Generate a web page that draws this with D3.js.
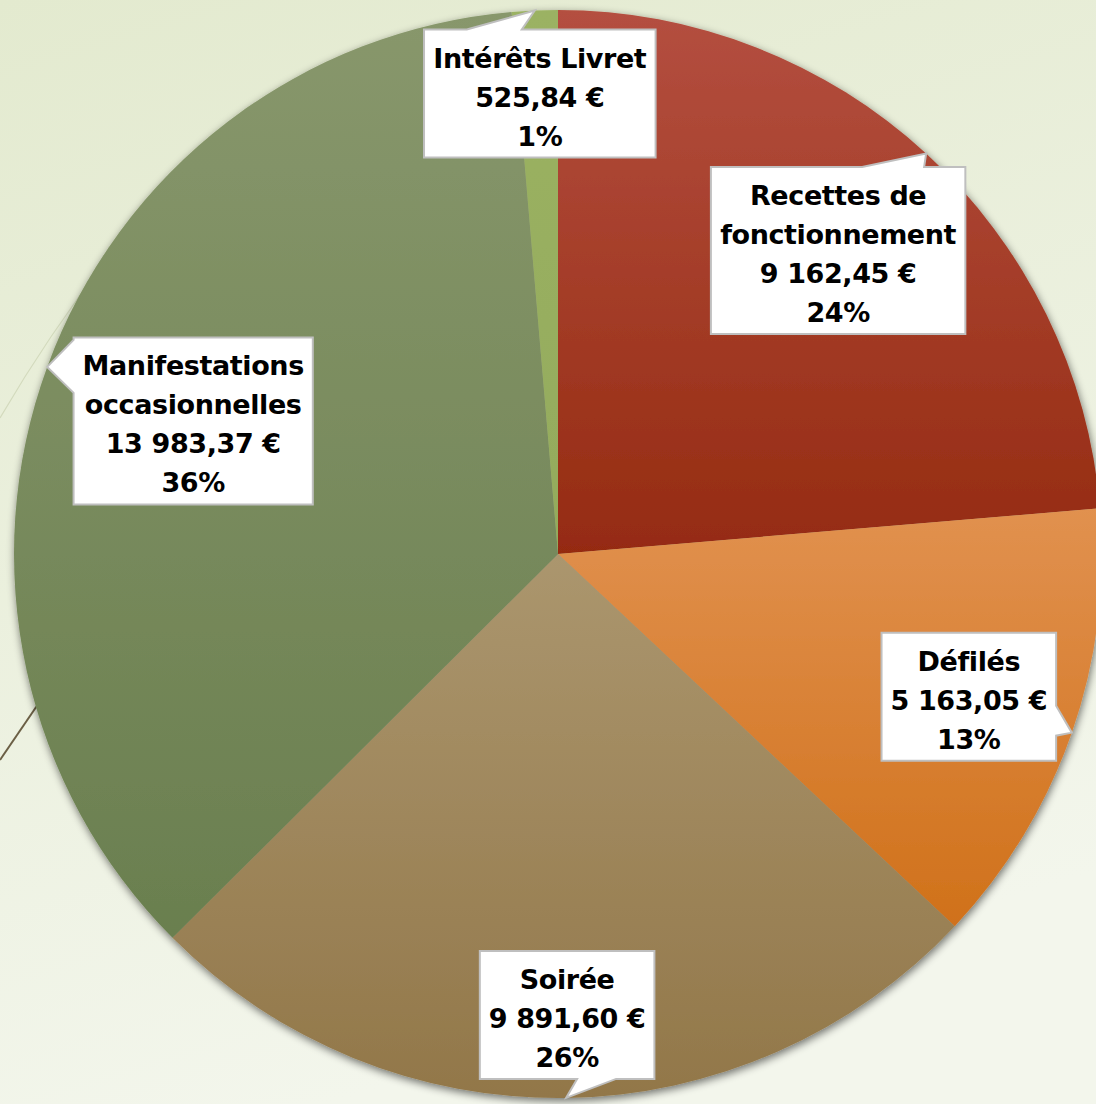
<!DOCTYPE html>
<html>
<head>
<meta charset="utf-8">
<script src="https://cdn.jsdelivr.net/npm/d3@7"></script>
<style>
  html, body { margin: 0; padding: 0; overflow: hidden; }
  svg { display: block; }
</style>
</head>
<body>
<svg id="chart"></svg>
<script>
// data
var categories = ["Recettes de fonctionnement", "Défilés", "Soirée", "Manifestations occasionnelles", "Intérêts Livret"];
var labelLines = [["Recettes de", "fonctionnement"], ["Défilés"], ["Soirée"], ["Manifestations", "occasionnelles"], ["Intérêts Livret"]];
var values = [9162.45, 5163.05, 9891.60, 13983.37, 525.84];

// slice colours (top, bottom of gradient)
var colorsTop = ["#b44f40", "#e1914f", "#ab966e", "#88976c", "#9bb263"];
var colorsBottom = ["#952b11", "#d0711a", "#927749", "#6a7f4f", "#94ab5c"];

// callout layout: box centre offset from pointer tip, side, pointer base span
var callouts = [
  { dx: -88, dy: 97, side: "top", base: [-64, -2] },
  { dx: -103, dy: -36, side: "right", base: [-27, 3] },
  { dx: 1, dy: -83, side: "bottom", base: [11, 50] },
  { dx: 146, dy: 54, side: "left", base: [-27, 26] },
  { dx: 5, dy: 83, side: "top", base: [-68, -13] }
];

var width = 1096, height = 1104;
var cx = 558, cy = 554, radius = 544;
var lineH = 39;

var fr = d3.formatLocale({ decimal: ",", thousands: "\u00a0", grouping: [3], currency: ["", "\u00a0€"] });
var fmtMoney = fr.format("$,.2f");
var total = d3.sum(values);

var svg = d3.select("#chart")
    .attr("width", width)
    .attr("height", height)
    .attr("viewBox", [0, 0, width, height]);

var defs = svg.append("defs");

var bg = defs.append("linearGradient").attr("id", "bg")
    .attr("x1", 0).attr("y1", 0).attr("x2", 0.3).attr("y2", 1);
bg.append("stop").attr("offset", "0%").attr("stop-color", "#e3eacf");
bg.append("stop").attr("offset", "100%").attr("stop-color", "#f3f6ec");

values.forEach(function (v, i) {
  var g = defs.append("linearGradient").attr("id", "slice" + i)
      .attr("x1", 0).attr("y1", 0).attr("x2", 0).attr("y2", 1);
  g.append("stop").attr("offset", "0%").attr("stop-color", colorsTop[i]);
  g.append("stop").attr("offset", "100%").attr("stop-color", colorsBottom[i]);
});

var shadow = defs.append("filter").attr("id", "shadow")
    .attr("x", "-10%").attr("y", "-10%").attr("width", "120%").attr("height", "120%");
shadow.append("feGaussianBlur").attr("in", "SourceAlpha").attr("stdDeviation", 4);
shadow.append("feOffset").attr("dx", 1).attr("dy", 3).attr("result", "blur");
shadow.append("feComponentTransfer").append("feFuncA").attr("type", "linear").attr("slope", 0.55);
var merge = shadow.append("feMerge");
merge.append("feMergeNode");
merge.append("feMergeNode").attr("in", "SourceGraphic");

svg.append("rect")
    .attr("width", width).attr("height", height)
    .attr("fill", "url(#bg)");

// theme decoration lines at left
svg.append("path")
    .attr("d", "M0,418 C25,375 60,320 110,255")
    .attr("fill", "none").attr("stroke", "#d3dabd").attr("stroke-width", 1.2);
svg.append("path")
    .attr("d", "M0,760 L60,672")
    .attr("fill", "none").attr("stroke", "#6b5f45").attr("stroke-width", 2);

var pie = d3.pie().sort(null).value(function (d) { return d; });
var arcs = pie(values);

var arc = d3.arc().innerRadius(0).outerRadius(radius);

var pieG = svg.append("g")
    .attr("transform", "translate(" + cx + "," + cy + ")")
    .attr("filter", "url(#shadow)");

pieG.selectAll("path")
    .data(arcs)
    .join("path")
    .attr("fill", function (d, i) { return "url(#slice" + i + ")"; })
    .attr("d", arc)
    .append("title")
    .text(function (d, i) { return categories[i]; });

// callouts
var labG = svg.append("g").attr("transform", "translate(" + cx + "," + cy + ")");

arcs.forEach(function (d, i) {
  var a = (d.startAngle + d.endAngle) / 2;
  var tip = [radius * Math.sin(a), -radius * Math.cos(a)];
  var c = callouts[i];
  var lines = labelLines[i].concat([fmtMoney(values[i]), Math.round(values[i] / total * 100) + "%"]);

  var g = labG.append("g");
  var path = g.append("path");
  var txt = g.append("text")
      .attr("text-anchor", "middle")
      .attr("font-family", "'DejaVu Sans', sans-serif")
      .attr("font-weight", "bold")
      .attr("font-size", 27)
      .attr("letter-spacing", -0.4)
      .attr("fill", "#000");

  var bx = tip[0] + c.dx, by = tip[1] + c.dy;
  var bh = lines.length * lineH + 11;
  var top = by - bh / 2;
  lines.forEach(function (l, k) {
    txt.append("tspan").attr("x", bx).attr("y", top + lineH * (k + 1) - 1).text(l);
  });
  var bw = txt.node().getBBox().width + 18;
  var x0 = bx - bw / 2, x1 = bx + bw / 2, y0 = top, y1 = top + bh;

  var p;
  if (c.side === "top") {
    p = [[x0, y0], [tip[0] + c.base[0], y0], tip, [tip[0] + c.base[1], y0], [x1, y0], [x1, y1], [x0, y1]];
  } else if (c.side === "bottom") {
    p = [[x0, y0], [x1, y0], [x1, y1], [tip[0] + c.base[1], y1], tip, [tip[0] + c.base[0], y1], [x0, y1]];
  } else if (c.side === "right") {
    p = [[x0, y0], [x1, y0], [x1, tip[1] + c.base[0]], tip, [x1, tip[1] + c.base[1]], [x1, y1], [x0, y1]];
  } else {
    p = [[x0, y0], [x1, y0], [x1, y1], [x0, y1], [x0, tip[1] + c.base[1]], tip, [x0, tip[1] + c.base[0]]];
  }
  path.attr("d", d3.line()(p) + "Z")
      .attr("fill", "#ffffff")
      .attr("stroke", "#bfbfbf")
      .attr("stroke-width", 2)
      .attr("stroke-linejoin", "miter");
});
</script>
</body>
</html>
